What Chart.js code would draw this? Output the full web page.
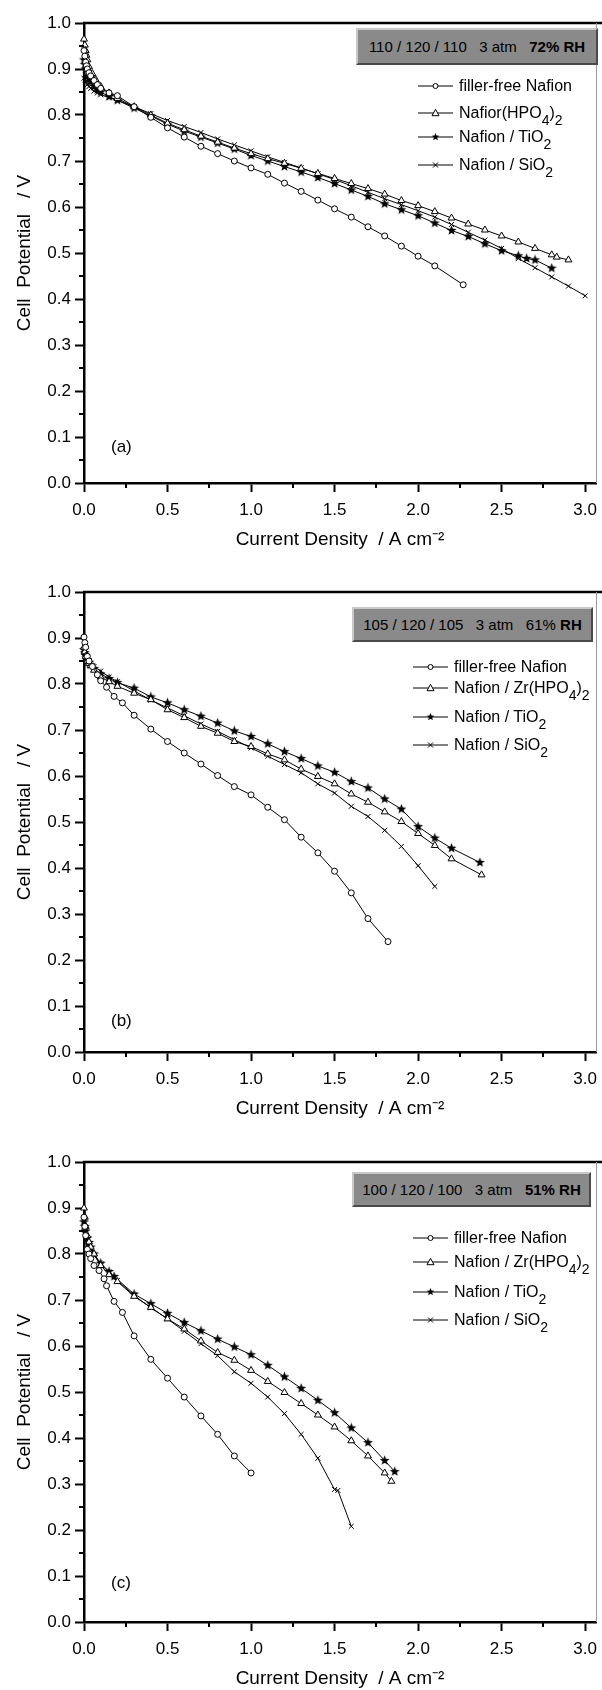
<!DOCTYPE html>
<html lang="en">
<head>
<meta charset="UTF-8">
<title>Cell potential vs current density</title>
<script src="https://cdn.jsdelivr.net/npm/chart.js"></script>
<style>
  html, body { margin: 0; padding: 0; background: #fff; }
  body {
    width: 602px; height: 1690px; overflow: hidden; position: relative;
    font-family: 'Liberation Sans', Arial, sans-serif; color: #000;
  }
  .panel { position: absolute; left: 0; width: 602px; height: 563px; }
  .panel canvas { position: absolute; left: 0; top: 0; }
  .cond {
    position: absolute; box-sizing: border-box;
    background: #8a8a8a;
    border-top: 2px solid #c8c8c8; border-left: 2px solid #c8c8c8;
    border-right: 2px solid #4a4a4a; border-bottom: 2px solid #4a4a4a;
    display: flex; align-items: center; justify-content: center;
    font-size: 15px; white-space: pre;
  }
  .row {
    position: absolute; height: 20px; line-height: 20px;
    display: flex; align-items: center; white-space: nowrap; font-size: 16px;
  }
  .row svg { margin-right: 6px; flex: none; }
  .row .lab { display: inline-block; line-height: 20px; }
  .row sub { font-size: 14px; vertical-align: -7px; line-height: 0; }
  .tag { position: absolute; font-size: 17px; line-height: 20px; }
</style>
</head>
<body>

<div class="panel" style="top:0">
  <canvas id="chartA" width="602" height="563"></canvas>
  <div class="cond" style="left:356px; top:28px; width:242px; height:37px">110 / 120 / 110   3 atm   <b>72% RH</b></div>
  <div class="row" style="left:418px; top:76px"><svg width="35" height="12"><line x1="0" y1="6" x2="35" y2="6" stroke="#000"/><circle cx="17.5" cy="6" r="2.5" fill="#fff" stroke="#000"/></svg><span class="lab">filler-free Nafion</span></div>
  <div class="row" style="left:418px; top:103px"><svg width="35" height="12"><line x1="0" y1="6" x2="35" y2="6" stroke="#000"/><polygon points="17.5,2.3 21,8.7 14,8.7" fill="#fff" stroke="#000"/></svg><span class="lab">Nafior(HPO<sub>4</sub>)<sub>2</sub></span></div>
  <div class="row" style="left:418px; top:127px"><svg width="35" height="12"><line x1="0" y1="6" x2="35" y2="6" stroke="#000"/><polygon points="17.5,2 18.5,4.6 21.3,4.8 19.1,6.5 19.9,9.2 17.5,7.7 15.1,9.2 15.9,6.5 13.7,4.8 16.5,4.6" fill="#000"/></svg><span class="lab">Nafion / TiO<sub>2</sub></span></div>
  <div class="row" style="left:418px; top:155px"><svg width="35" height="12"><line x1="0" y1="6" x2="35" y2="6" stroke="#000"/><line x1="15" y1="3.5" x2="20" y2="8.5" stroke="#000"/><line x1="15" y1="8.5" x2="20" y2="3.5" stroke="#000"/></svg><span class="lab">Nafion / SiO<sub>2</sub></span></div>
  <div class="tag" style="left:111px; top:437px">(a)</div>
</div>

<div class="panel" style="top:569px">
  <canvas id="chartB" width="602" height="563"></canvas>
  <div class="cond" style="left:352px; top:38px; width:241px; height:35px">105 / 120 / 105   3 atm   61% <b>RH</b></div>
  <div class="row" style="left:413px; top:88px"><svg width="35" height="12"><line x1="0" y1="6" x2="35" y2="6" stroke="#000"/><circle cx="17.5" cy="6" r="2.5" fill="#fff" stroke="#000"/></svg><span class="lab">filler-free Nafion</span></div>
  <div class="row" style="left:413px; top:109px"><svg width="35" height="12"><line x1="0" y1="6" x2="35" y2="6" stroke="#000"/><polygon points="17.5,2.3 21,8.7 14,8.7" fill="#fff" stroke="#000"/></svg><span class="lab">Nafion / Zr(HPO<sub>4</sub>)<sub>2</sub></span></div>
  <div class="row" style="left:413px; top:138px"><svg width="35" height="12"><line x1="0" y1="6" x2="35" y2="6" stroke="#000"/><polygon points="17.5,2 18.5,4.6 21.3,4.8 19.1,6.5 19.9,9.2 17.5,7.7 15.1,9.2 15.9,6.5 13.7,4.8 16.5,4.6" fill="#000"/></svg><span class="lab">Nafion / TiO<sub>2</sub></span></div>
  <div class="row" style="left:413px; top:166px"><svg width="35" height="12"><line x1="0" y1="6" x2="35" y2="6" stroke="#000"/><line x1="15" y1="3.5" x2="20" y2="8.5" stroke="#000"/><line x1="15" y1="8.5" x2="20" y2="3.5" stroke="#000"/></svg><span class="lab">Nafion / SiO<sub>2</sub></span></div>
  <div class="tag" style="left:111px; top:442px">(b)</div>
</div>

<div class="panel" style="top:1139px">
  <canvas id="chartC" width="602" height="563"></canvas>
  <div class="cond" style="left:352px; top:33px; width:239px; height:35px">100 / 120 / 100   3 atm   <b>51% RH</b></div>
  <div class="row" style="left:413px; top:89px"><svg width="35" height="12"><line x1="0" y1="6" x2="35" y2="6" stroke="#000"/><circle cx="17.5" cy="6" r="2.5" fill="#fff" stroke="#000"/></svg><span class="lab">filler-free Nafion</span></div>
  <div class="row" style="left:413px; top:113px"><svg width="35" height="12"><line x1="0" y1="6" x2="35" y2="6" stroke="#000"/><polygon points="17.5,2.3 21,8.7 14,8.7" fill="#fff" stroke="#000"/></svg><span class="lab">Nafion / Zr(HPO<sub>4</sub>)<sub>2</sub></span></div>
  <div class="row" style="left:413px; top:143px"><svg width="35" height="12"><line x1="0" y1="6" x2="35" y2="6" stroke="#000"/><polygon points="17.5,2 18.5,4.6 21.3,4.8 19.1,6.5 19.9,9.2 17.5,7.7 15.1,9.2 15.9,6.5 13.7,4.8 16.5,4.6" fill="#000"/></svg><span class="lab">Nafion / TiO<sub>2</sub></span></div>
  <div class="row" style="left:413px; top:171px"><svg width="35" height="12"><line x1="0" y1="6" x2="35" y2="6" stroke="#000"/><line x1="15" y1="3.5" x2="20" y2="8.5" stroke="#000"/><line x1="15" y1="8.5" x2="20" y2="3.5" stroke="#000"/></svg><span class="lab">Nafion / SiO<sub>2</sub></span></div>
  <div class="tag" style="left:111px; top:434px">(c)</div>
</div>

<script>
// ---- data: current density (A cm-2) and cell potential (V) ----

// (a) 110/120/110, 3 atm, 72% RH
const aFreeX = [0, 0.005, 0.01, 0.015, 0.02, 0.03, 0.04, 0.06, 0.08, 0.1, 0.15, 0.2, 0.3, 0.4, 0.5, 0.6, 0.7, 0.8, 0.9, 1.0, 1.1, 1.2, 1.3, 1.4, 1.5, 1.6, 1.7, 1.8, 1.9, 2.0, 2.1, 2.27];
const aFreeY = [0.94, 0.928, 0.915, 0.907, 0.90, 0.892, 0.885, 0.875, 0.866, 0.858, 0.848, 0.842, 0.818, 0.795, 0.772, 0.752, 0.732, 0.716, 0.700, 0.685, 0.671, 0.652, 0.634, 0.615, 0.596, 0.578, 0.557, 0.537, 0.515, 0.493, 0.472, 0.431];
const aZrX = [0, 0.005, 0.01, 0.015, 0.02, 0.03, 0.05, 0.07, 0.1, 0.15, 0.2, 0.3, 0.4, 0.5, 0.6, 0.7, 0.8, 0.9, 1.0, 1.1, 1.2, 1.3, 1.4, 1.5, 1.6, 1.7, 1.8, 1.9, 2.0, 2.1, 2.2, 2.3, 2.4, 2.5, 2.6, 2.7, 2.8, 2.83, 2.9];
const aZrY = [0.965, 0.952, 0.94, 0.93, 0.92, 0.905, 0.89, 0.877, 0.862, 0.848, 0.836, 0.818, 0.80, 0.782, 0.768, 0.754, 0.741, 0.728, 0.716, 0.705, 0.695, 0.684, 0.673, 0.662, 0.651, 0.640, 0.628, 0.614, 0.603, 0.590, 0.576, 0.563, 0.550, 0.537, 0.524, 0.510, 0.496, 0.491, 0.485];
const aTiX = [0, 0.005, 0.01, 0.02, 0.03, 0.04, 0.06, 0.08, 0.1, 0.15, 0.2, 0.3, 0.4, 0.5, 0.6, 0.7, 0.8, 0.9, 1.0, 1.1, 1.2, 1.3, 1.4, 1.5, 1.6, 1.7, 1.8, 1.9, 2.0, 2.1, 2.2, 2.3, 2.4, 2.5, 2.6, 2.65, 2.7, 2.8];
const aTiY = [0.92, 0.91, 0.90, 0.885, 0.878, 0.872, 0.862, 0.855, 0.85, 0.84, 0.832, 0.815, 0.798, 0.78, 0.765, 0.752, 0.739, 0.726, 0.712, 0.70, 0.688, 0.676, 0.664, 0.651, 0.637, 0.623, 0.607, 0.594, 0.581, 0.565, 0.549, 0.536, 0.520, 0.505, 0.494, 0.488, 0.485, 0.467];
const aSiX = [0, 0.005, 0.01, 0.02, 0.03, 0.04, 0.06, 0.08, 0.1, 0.15, 0.2, 0.3, 0.4, 0.5, 0.6, 0.7, 0.8, 0.9, 1.0, 1.1, 1.2, 1.3, 1.4, 1.5, 1.6, 1.7, 1.8, 1.9, 2.0, 2.1, 2.2, 2.3, 2.4, 2.5, 2.6, 2.7, 2.8, 2.9, 3.0];
const aSiY = [0.88, 0.876, 0.872, 0.866, 0.862, 0.858, 0.852, 0.848, 0.844, 0.838, 0.832, 0.818, 0.803, 0.788, 0.775, 0.762, 0.748, 0.735, 0.722, 0.709, 0.697, 0.685, 0.672, 0.66, 0.646, 0.632, 0.618, 0.605, 0.592, 0.578, 0.562, 0.545, 0.528, 0.51, 0.488, 0.468, 0.448, 0.428, 0.407];

// (b) 105/120/105, 3 atm, 61% RH
const bFreeX = [0, 0.005, 0.01, 0.02, 0.03, 0.05, 0.08, 0.1, 0.135, 0.18, 0.23, 0.3, 0.4, 0.5, 0.6, 0.7, 0.8, 0.9, 1.0, 1.1, 1.2, 1.3, 1.4, 1.5, 1.6, 1.7, 1.82];
const bFreeY = [0.902, 0.89, 0.88, 0.86, 0.85, 0.838, 0.82, 0.807, 0.793, 0.773, 0.759, 0.732, 0.702, 0.675, 0.650, 0.626, 0.601, 0.577, 0.559, 0.532, 0.505, 0.467, 0.433, 0.393, 0.346, 0.290, 0.240];
const bZrX = [0, 0.005, 0.01, 0.02, 0.03, 0.04, 0.06, 0.1, 0.15, 0.2, 0.3, 0.4, 0.5, 0.6, 0.7, 0.8, 0.9, 1.0, 1.1, 1.2, 1.3, 1.4, 1.5, 1.6, 1.7, 1.8, 1.9, 2.0, 2.1, 2.2, 2.38];
const bZrY = [0.88, 0.87, 0.86, 0.85, 0.845, 0.84, 0.83, 0.815, 0.805, 0.795, 0.780, 0.766, 0.744, 0.727, 0.708, 0.693, 0.675, 0.664, 0.648, 0.635, 0.615, 0.599, 0.583, 0.561, 0.543, 0.522, 0.501, 0.475, 0.449, 0.420, 0.385];
const bTiX = [0, 0.005, 0.01, 0.02, 0.03, 0.04, 0.06, 0.1, 0.15, 0.2, 0.3, 0.4, 0.5, 0.6, 0.7, 0.8, 0.9, 1.0, 1.1, 1.2, 1.3, 1.4, 1.5, 1.6, 1.7, 1.8, 1.9, 2.0, 2.1, 2.2, 2.37];
const bTiY = [0.875, 0.868, 0.862, 0.852, 0.847, 0.842, 0.834, 0.822, 0.812, 0.803, 0.791, 0.772, 0.759, 0.744, 0.730, 0.715, 0.698, 0.686, 0.670, 0.653, 0.638, 0.622, 0.608, 0.588, 0.574, 0.550, 0.528, 0.490, 0.465, 0.443, 0.412];
const bSiX = [0, 0.005, 0.01, 0.02, 0.03, 0.04, 0.06, 0.1, 0.15, 0.2, 0.3, 0.4, 0.5, 0.6, 0.7, 0.8, 0.9, 1.0, 1.1, 1.2, 1.3, 1.4, 1.5, 1.6, 1.7, 1.8, 1.9, 2.0, 2.1];
const bSiY = [0.87, 0.865, 0.86, 0.855, 0.85, 0.845, 0.838, 0.828, 0.815, 0.805, 0.785, 0.765, 0.748, 0.731, 0.713, 0.697, 0.679, 0.661, 0.643, 0.625, 0.607, 0.583, 0.563, 0.534, 0.512, 0.482, 0.447, 0.405, 0.360];

// (c) 100/120/100, 3 atm, 51% RH
const cFreeX = [0, 0.005, 0.01, 0.02, 0.03, 0.04, 0.06, 0.09, 0.12, 0.135, 0.18, 0.23, 0.3, 0.4, 0.5, 0.6, 0.7, 0.8, 0.9, 1.0];
const cFreeY = [0.88, 0.86, 0.84, 0.81, 0.80, 0.79, 0.775, 0.764, 0.746, 0.731, 0.697, 0.673, 0.622, 0.571, 0.530, 0.489, 0.448, 0.408, 0.361, 0.324];
const cZrX = [0, 0.005, 0.01, 0.02, 0.03, 0.04, 0.06, 0.1, 0.15, 0.2, 0.3, 0.4, 0.5, 0.6, 0.7, 0.8, 0.9, 1.0, 1.1, 1.2, 1.3, 1.4, 1.5, 1.6, 1.7, 1.8, 1.84];
const cZrY = [0.9, 0.88, 0.86, 0.84, 0.826, 0.815, 0.80, 0.775, 0.755, 0.74, 0.708, 0.684, 0.659, 0.637, 0.611, 0.586, 0.569, 0.547, 0.523, 0.499, 0.475, 0.450, 0.424, 0.394, 0.361, 0.324, 0.306];
const cTiX = [0, 0.005, 0.01, 0.02, 0.03, 0.04, 0.06, 0.1, 0.15, 0.18, 0.3, 0.4, 0.5, 0.6, 0.7, 0.8, 0.9, 1.0, 1.1, 1.2, 1.3, 1.4, 1.5, 1.6, 1.7, 1.8, 1.86];
const cTiY = [0.87, 0.86, 0.85, 0.835, 0.825, 0.815, 0.80, 0.78, 0.762, 0.751, 0.713, 0.692, 0.671, 0.651, 0.633, 0.615, 0.598, 0.581, 0.558, 0.533, 0.508, 0.482, 0.455, 0.422, 0.390, 0.351, 0.327];
const cSiX = [0, 0.005, 0.01, 0.02, 0.03, 0.04, 0.06, 0.1, 0.15, 0.2, 0.3, 0.4, 0.5, 0.6, 0.7, 0.8, 0.9, 1.0, 1.1, 1.2, 1.3, 1.4, 1.5, 1.52, 1.6];
const cSiY = [0.86, 0.852, 0.845, 0.83, 0.82, 0.81, 0.797, 0.778, 0.76, 0.742, 0.71, 0.683, 0.659, 0.632, 0.605, 0.579, 0.544, 0.519, 0.489, 0.453, 0.408, 0.356, 0.288, 0.286, 0.208];

const seriesNames = ['filler-free Nafion', 'Nafion / Zr(HPO4)2', 'Nafion / TiO2', 'Nafion / SiO2'];

// ---- styling ----
const FONT = "'Liberation Sans', Arial, sans-serif";

// filled five-point star for the TiO2 series
function makeStar() {
  const c = document.createElement('canvas');
  c.width = 11; c.height = 11;
  const g = c.getContext('2d');
  g.beginPath();
  for (let i = 0; i < 10; i++) {
    const r = i % 2 ? 2.2 : 5.2;
    const a = -Math.PI / 2 + i * Math.PI / 5;
    g.lineTo(5.5 + r * Math.cos(a), 5.5 + r * Math.sin(a));
  }
  g.closePath();
  g.fillStyle = '#000';
  g.fill();
  return c;
}
const starImg = makeStar();

const markers = [
  { pointStyle: 'circle', pointRadius: 3, pointBackgroundColor: '#fff' },
  { pointStyle: 'triangle', pointRadius: 4, pointBackgroundColor: '#fff' },
  { pointStyle: starImg, pointRadius: 5, pointBackgroundColor: '#000' },
  { pointStyle: 'crossRot', pointRadius: 3.5, pointBackgroundColor: '#fff' }
];

function toPoints(xs, ys) {
  return xs.map((x, i) => ({ x: x, y: ys[i] }));
}

// top frame line, thin right edge, minor ticks
const framePlugin = {
  id: 'frame',
  afterDraw(chart) {
    const { ctx, chartArea: a, scales } = chart;
    ctx.save();
    ctx.strokeStyle = '#000';
    ctx.lineWidth = 2.5;
    ctx.beginPath();
    ctx.moveTo(a.left - 1, a.top);
    ctx.lineTo(chart.width, a.top);
    ctx.stroke();

    ctx.strokeStyle = '#9a9a9a';
    ctx.lineWidth = 1;
    ctx.beginPath();
    ctx.moveTo(a.right + 0.5, a.top);
    ctx.lineTo(a.right + 0.5, a.bottom);
    ctx.stroke();

    ctx.strokeStyle = '#000';
    ctx.lineWidth = 2;
    ctx.beginPath();
    for (let v = 0.05; v < 1; v += 0.1) {
      const py = Math.round(scales.y.getPixelForValue(v));
      ctx.moveTo(a.left, py);
      ctx.lineTo(a.left - 5, py);
    }
    for (let v = 0.25; v < 3; v += 0.5) {
      const px = Math.round(scales.x.getPixelForValue(v));
      ctx.moveTo(px, a.bottom);
      ctx.lineTo(px, a.bottom + 5);
    }
    ctx.stroke();
    ctx.restore();
  }
};

function makePanel(id, seriesX, seriesY) {
  const datasets = seriesX.map((xs, i) => Object.assign({
    label: seriesNames[i],
    data: toPoints(xs, seriesY[i]),
    borderColor: '#000',
    borderWidth: 1,
    pointBorderColor: '#000',
    pointBorderWidth: 1,
    tension: 0,
    clip: false
  }, markers[i]));

  new Chart(document.getElementById(id), {
    type: 'line',
    data: { datasets: datasets },
    plugins: [framePlugin],
    options: {
      responsive: false,
      animation: false,
      devicePixelRatio: 1,
      layout: { padding: { top: 23, right: 2, left: 0, bottom: 0 } },
      plugins: { legend: { display: false }, tooltip: { enabled: false } },
      scales: {
        x: {
          type: 'linear',
          min: 0,
          max: 3.065,
          afterFit(s) { s.height = 80; s.paddingLeft = 0; s.paddingRight = 0; },
          border: { display: true, color: '#000', width: 2.5 },
          grid: { drawOnChartArea: false, drawTicks: true, tickLength: 9, tickWidth: 2, tickColor: '#000' },
          ticks: {
            stepSize: 0.5,
            includeBounds: false,
            padding: 8,
            color: '#000',
            maxRotation: 0,
            font: { family: FONT, size: 17 },
            callback: v => v.toFixed(1)
          },
          title: {
            display: true,
            text: 'Current Density  / A cm\u207B\u00B2',
            color: '#000',
            font: { family: FONT, size: 19 },
            padding: { top: 0, bottom: 12 }
          }
        },
        y: {
          type: 'linear',
          min: 0,
          max: 1,
          afterFit(s) { s.width = 84; s.paddingTop = 0; s.paddingBottom = 0; },
          border: { display: true, color: '#000', width: 2.5 },
          grid: { drawOnChartArea: false, drawTicks: true, tickLength: 9, tickWidth: 2, tickColor: '#000' },
          ticks: {
            stepSize: 0.1,
            padding: 4,
            color: '#000',
            font: { family: FONT, size: 17 },
            callback: v => v.toFixed(1)
          },
          title: {
            display: true,
            text: 'Cell  Potential   / V',
            color: '#000',
            font: { family: FONT, size: 19 },
            padding: { top: 13, bottom: 0 }
          }
        }
      }
    }
  });
}

makePanel('chartA', [aFreeX, aZrX, aTiX, aSiX], [aFreeY, aZrY, aTiY, aSiY]);
makePanel('chartB', [bFreeX, bZrX, bTiX, bSiX], [bFreeY, bZrY, bTiY, bSiY]);
makePanel('chartC', [cFreeX, cZrX, cTiX, cSiX], [cFreeY, cZrY, cTiY, cSiY]);
</script>
</body>
</html>
